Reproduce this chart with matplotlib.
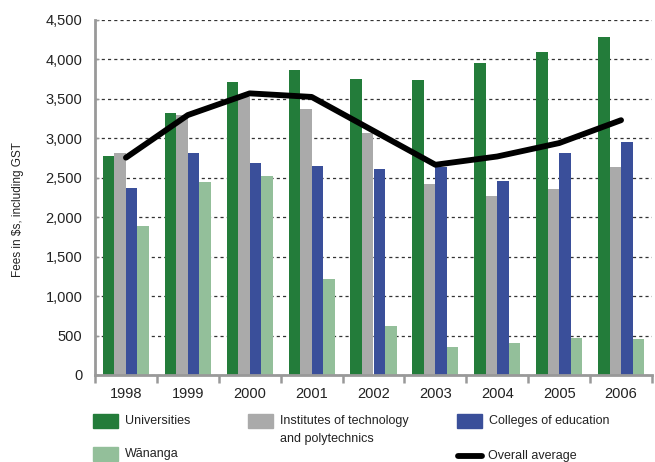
import numpy as np
import matplotlib
matplotlib.use("Agg")
import matplotlib.pyplot as plt
from matplotlib.patches import Rectangle
from matplotlib.lines import Line2D
from matplotlib.ticker import FuncFormatter, MultipleLocator

years = ["1998", "1999", "2000", "2001", "2002", "2003", "2004", "2005", "2006"]
universities = [2780, 3320, 3715, 3865, 3755, 3740, 3955, 4095, 4285]
institutes = [2815, 3295, 3530, 3375, 3070, 2425, 2270, 2360, 2640]
colleges = [2375, 2815, 2690, 2655, 2615, 2640, 2460, 2815, 2955]
wananga = [1890, 2450, 2525, 1222, 615, 350, 400, 475, 462]
overall = [2755, 3295, 3570, 3525, 3095, 2665, 2770, 2940, 3230]

series_names = ["Universities", "Institutes of technology\nand polytechnics",
                "Colleges of education", "Wānanga"]
series_colors = ["#237c3a", "#aaaaaa", "#3a4f9a", "#93bf9a"]

plt.rcParams["font.family"] = ["Liberation Sans", "DejaVu Sans"]

W, H = 655, 462
fig = plt.figure(figsize=(W / 100, H / 100), dpi=100)
ax = fig.add_axes([95 / W, 1 - 375 / H, (652 - 95) / W, (375 - 20) / H])

x = np.arange(len(years))
bw = 0.186
for i, (vals, col) in enumerate(zip([universities, institutes, colleges, wananga], series_colors)):
    ax.bar(x + (i - 1.5) * bw, vals, width=bw, color=col, zorder=2, linewidth=0)

ax.plot(x, overall, color="black", lw=4.2, solid_capstyle="round", solid_joinstyle="round", zorder=3)

ax.set_xlim(-0.5, len(years) - 0.5)
ax.set_ylim(0, 4500)
ax.yaxis.set_major_locator(MultipleLocator(500))
ax.yaxis.set_major_formatter(FuncFormatter(lambda v, p: f"{int(v):,}"))
ax.grid(axis="y", color="#333333", linestyle=(0, (2.5, 2.5)), linewidth=0.9, zorder=1)
ax.set_axisbelow(True)

ax.set_xticks(x)
ax.set_xticklabels(years, fontsize=10.5, color="#222222")
ax.set_xticks(np.arange(-0.5, len(years)), minor=True)
ax.tick_params(axis="x", which="major", length=0, pad=9)
ax.tick_params(axis="x", which="minor", length=6, width=1.8, color="#999999")
ax.tick_params(axis="y", length=3, width=1, color="#999999", direction="in",
               labelsize=10.5, labelcolor="#222222", pad=9)

for s in ["top", "right"]:
    ax.spines[s].set_visible(False)
for s in ["left", "bottom"]:
    ax.spines[s].set_color("#999999")
    ax.spines[s].set_linewidth(2)

fig.text(18 / W, 1 - 210 / H, "Fees in $s, including GST", fontsize=8.5, rotation=90,
         va="center", ha="center", color="#222222")

# legend drawn by hand to follow the reference layout
def px(xp, yp):
    return xp / W, 1 - yp / H

legend_items = [
    (series_names[0], series_colors[0], 93, 421),
    (series_names[1], series_colors[1], 248, 421),
    (series_names[2], series_colors[2], 457, 421),
    (series_names[3], series_colors[3], 93, 454),
]
for name, col, lx, ly in legend_items:
    fx, fy = px(lx, ly + 7)
    fig.add_artist(Rectangle((fx, fy), 25 / W, 14 / H, color=col, transform=fig.transFigure))
    for k, t in enumerate(name.split("\n")):
        tx, ty = px(lx + 32, ly + k * 18)
        fig.text(tx, ty, t, fontsize=9, va="center", ha="left", color="#222222")

lx0, ly0 = px(458, 456)
lx1, _ = px(482, 456)
fig.add_artist(Line2D([lx0, lx1], [ly0, ly0], color="black", lw=4.2, solid_capstyle="round",
                      transform=fig.transFigure))
tx, ty = px(488, 456)
fig.text(tx, ty, "Overall average", fontsize=9, va="center", ha="left", color="#222222")

fig.savefig("out.png", dpi=100)
